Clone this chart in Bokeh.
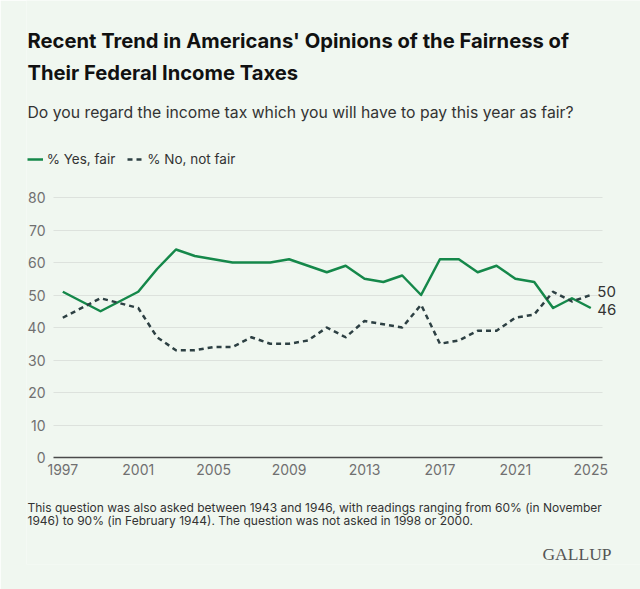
from bokeh.plotting import figure
from bokeh.models import (Range1d, FixedTicker, Label, LabelSet, Legend,
                          LegendItem, ColumnDataSource, Grid)
from bokeh.core.properties import value
from bokeh.embed import file_html
from bokeh.resources import INLINE

# ---------------- data ----------------
years = [1997, 1999, 2001, 2002, 2003, 2004, 2005, 2006, 2007, 2008, 2009,
         2010, 2011, 2012, 2013, 2014, 2015, 2016, 2017, 2018, 2019, 2020,
         2021, 2022, 2023, 2024, 2025]
yes_fair = [51, 45, 51, 58, 64, 62, 61, 60, 60, 60, 61, 59, 57, 59, 55, 54,
            56, 50, 61, 61, 57, 59, 55, 54, 46, 49, 46]
no_not_fair = [43, 49, 46, 37, 33, 33, 34, 34, 37, 35, 35, 36, 40, 37, 42, 41,
               40, 47, 35, 36, 39, 39, 43, 44, 51, 48, 50]
series_names = ["% Yes, fair", "% No, not fair"]
x_ticks = [1997, 2001, 2005, 2009, 2013, 2017, 2021, 2025]
y_ticks = [0, 10, 20, 30, 40, 50, 60, 70, 80]

title_lines = ["Recent Trend in Americans' Opinions of the Fairness of",
               "Their Federal Income Taxes"]
subtitle = "Do you regard the income tax which you will have to pay this year as fair?"
footnote_lines = [
    "This question was also asked between 1943 and 1946, with readings ranging from 60% (in November",
    "1946) to 90% (in February 1944). The question was not asked in 1998 or 2000.",
]
brand = "GALLUP"

# ---------------- style / layout ----------------
BG = "#f0f7f0"
GREEN = "#15884a"
DARK = "#2d4043"
FONT = "Inter"
W, H = 640, 589
LEFT, BOTTOM = 26, 25                 # frame borders (px)
FW, FH = W - LEFT, H - BOTTOM          # frame size
PLOT_L, PLOT_R = 53.0, 601.7           # visible plot area (page px)
PLOT_T, PLOT_B = 197.0, 457.0
X0_PX, X1_PX = 62.3, 590.3             # pixel of first / last year

ppy = (X1_PX - X0_PX) / (years[-1] - years[0])
x_start = years[0] - (X0_PX - LEFT) / ppy
x_end = x_start + FW / ppy
ppu = (PLOT_B - PLOT_T) / (y_ticks[-1] - y_ticks[0])
y_start = y_ticks[0] - (FH - PLOT_B) / ppu
y_end = y_ticks[-1] + PLOT_T / ppu
grid_x0 = years[0] - (X0_PX - PLOT_L) / ppy
grid_x1 = years[-1] + (PLOT_R - X1_PX) / ppy

p = figure(width=W, height=H, output_backend="svg", toolbar_location=None,
           x_range=Range1d(x_start, x_end), y_range=Range1d(y_start, y_end),
           min_border_left=LEFT, min_border_right=0, min_border_top=0,
           min_border_bottom=BOTTOM)
p.background_fill_color = BG
p.border_fill_color = BG
p.outline_line_color = None

# y axis drawn at the left edge of the plot area
p.yaxis.ticker = FixedTicker(ticks=y_ticks)
p.yaxis.fixed_location = grid_x0
p.yaxis.axis_line_color = None
p.yaxis.major_tick_line_color = None
p.yaxis.minor_tick_line_color = None
p.yaxis.major_tick_out = 0
p.yaxis.major_tick_in = 0
p.yaxis.major_label_standoff = 8
p.yaxis.major_label_text_font = FONT
p.yaxis.major_label_text_font_size = "14px"
p.yaxis.major_label_text_color = "#707070"

# x axis at value 0
p.xaxis.ticker = FixedTicker(ticks=x_ticks)
p.xaxis.fixed_location = y_ticks[0]
p.xaxis.bounds = (grid_x0, grid_x1)
p.xaxis.axis_line_color = "#4a4a4a"
p.xaxis.axis_line_width = 1.5
p.xaxis.major_tick_line_color = None
p.xaxis.minor_tick_line_color = None
p.xaxis.major_tick_out = 0
p.xaxis.major_tick_in = 0
p.xaxis.major_label_standoff = 6
p.xaxis.major_label_text_font = FONT
p.xaxis.major_label_text_font_size = "14px"
p.xaxis.major_label_text_color = "#707070"

p.xgrid.grid_line_color = None
p.ygrid.grid_line_color = None
if "cross_bounds" in Grid.properties():
    g = Grid(dimension=1, ticker=FixedTicker(ticks=y_ticks[1:]),
             bounds=(y_ticks[0], y_ticks[-1]), cross_bounds=(grid_x0, grid_x1),
             grid_line_color="#dde2dd", grid_line_width=1)
    p.add_layout(g)
else:
    p.segment(x0=[grid_x0] * (len(y_ticks) - 1), x1=[grid_x1] * (len(y_ticks) - 1),
              y0=y_ticks[1:], y1=y_ticks[1:], line_color="#dde2dd",
              line_width=1, level="underlay")

r_yes = p.line(years, yes_fair, line_color=GREEN, line_width=2.5,
               line_join="round")
r_no = p.line(years, no_not_fair, line_color=DARK, line_width=2.5,
              line_dash="5 4", line_join="round")

# end labels
end_src = ColumnDataSource(dict(
    x=[years[-1], years[-1]],
    y=[no_not_fair[-1], yes_fair[-1]],
    text=[str(no_not_fair[-1]), str(yes_fair[-1])],
    yoff=[4, -1.6],
))
p.add_layout(LabelSet(x="x", y="y", text="text", source=end_src,
                      x_offset=6.5, y_offset="yoff",
                      text_font=value(FONT), text_font_size="15px",
                      text_color="#333333", text_baseline="middle"))

# legend
legend = Legend(items=[LegendItem(label=series_names[0], renderers=[r_yes]),
                       LegendItem(label=series_names[1], renderers=[r_no])],
                orientation="horizontal", location=(26.7 - LEFT, FH - 168.5),
                glyph_width=16, glyph_height=20, label_standoff=4,
                spacing=12, padding=0, margin=0, border_line_color=None,
                background_fill_alpha=0, label_text_font=FONT,
                label_text_font_size="13.5px", label_text_color="#333333")
p.add_layout(legend, "center")


def add_text(txt, px, py, size, style="normal", color="#333333",
             font=FONT, align="left"):
    p.add_layout(Label(x=px - LEFT, y=FH - py, x_units="screen",
                       y_units="screen", text=txt, text_font=font,
                       text_font_style=style, text_font_size=size,
                       text_color=color, text_baseline="middle",
                       text_align=align))


add_text(title_lines[0], 27, 40, "20.2px", "bold", "#111111")
add_text(title_lines[1], 27, 72, "20.2px", "bold", "#111111")
add_text(subtitle, 27, 112, "15.75px")
add_text(footnote_lines[0], 27, 507, "12px")
add_text(footnote_lines[1], 27, 520, "12px")
add_text(brand, 611, 553, "17.5px", color="#555555",
         font="Liberation Serif", align="right")

html = file_html(p, INLINE, title="Fairness of Federal Income Taxes")
with open("out.html", "w") as f:
    f.write(html)
